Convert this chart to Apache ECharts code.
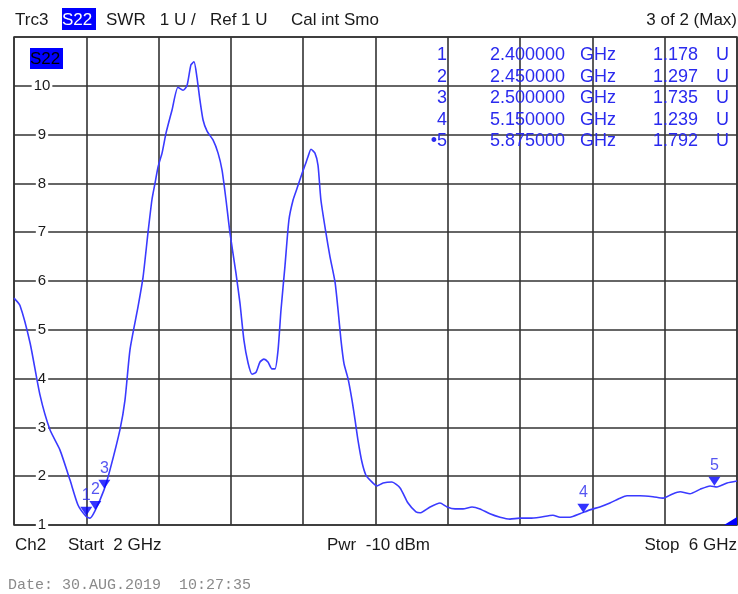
<!DOCTYPE html>
<html>
<head>
<meta charset="utf-8">
<script src="https://cdn.jsdelivr.net/npm/echarts@6/dist/echarts.min.js"></script>
<style>html,body{margin:0;padding:0;background:#fff;}#c{width:738px;height:594px;}</style>
</head>
<body>
<div id="c"></div>
<script>
// Trace frequencies (GHz) and SWR values
const freqs = [2.000,2.033,2.089,2.144,2.199,2.254,2.310,2.354,2.398,2.420,2.448,2.498,2.531,2.586,2.614,2.642,2.686,2.714,2.741,2.763,2.780,2.797,2.819,2.841,2.874,2.907,2.935,2.957,2.979,2.996,3.012,3.029,3.046,3.068,3.101,3.129,3.151,3.173,3.195,3.228,3.250,3.272,3.295,3.317,3.339,3.361,3.383,3.405,3.427,3.444,3.461,3.477,3.499,3.521,3.544,3.566,3.593,3.610,3.627,3.643,3.665,3.682,3.698,3.726,3.748,3.776,3.793,3.809,3.826,3.848,3.870,3.887,3.903,3.925,3.947,3.970,4.008,4.042,4.091,4.136,4.180,4.224,4.246,4.302,4.357,4.396,4.440,4.484,4.534,4.578,4.633,4.689,4.744,4.799,4.855,4.910,4.982,5.021,5.076,5.131,5.186,5.241,5.297,5.353,5.391,5.463,5.535,5.591,5.640,5.685,5.740,5.795,5.851,5.889,5.945,6.000];
const swr = [5.65,5.50,4.73,3.66,2.95,2.54,1.92,1.41,1.18,1.14,1.29,1.72,2.13,2.95,3.56,4.60,5.47,6.08,6.98,7.66,8.00,8.34,8.62,9.03,9.50,9.97,9.91,10.00,10.43,10.49,10.18,9.70,9.30,9.07,8.89,8.62,8.27,7.66,6.98,6.16,5.55,4.79,4.32,4.09,4.13,4.34,4.40,4.34,4.20,4.20,4.59,5.40,6.30,7.25,7.66,7.90,8.20,8.37,8.55,8.70,8.62,8.37,7.66,6.98,6.50,5.98,5.40,4.79,4.30,4.00,3.56,3.15,2.74,2.29,2.02,1.92,1.80,1.86,1.88,1.76,1.45,1.27,1.25,1.37,1.45,1.37,1.33,1.33,1.37,1.33,1.23,1.16,1.12,1.14,1.14,1.16,1.20,1.16,1.16,1.23,1.31,1.37,1.45,1.55,1.60,1.60,1.58,1.55,1.63,1.68,1.64,1.73,1.80,1.78,1.86,1.90];
// Markers
const markerIds = ['1','2','3','4','5'];
const markerFreqs = [2.400000, 2.450000, 2.500000, 5.150000, 5.875000];
const markerVals = [1.178, 1.297, 1.735, 1.239, 1.792];
// Axis settings
const yTicks = [1,2,3,4,5,6,7,8,9,10];
const fStart = 2, fStop = 6;

const blue = '#3a3aff';
const txt = '#1a1a1a';
const chart = echarts.init(document.getElementById('c'), null, {renderer:'canvas'});

const gfx = [];
const hdr = {fontFamily:'Liberation Sans, Arial', fontSize:17, fill:txt};
function T(x,y,text,st){ gfx.push({type:'text', x:x, y:y, z:10, style:Object.assign({text:text, textVerticalAlign:'middle'}, hdr, st||{})}); }
T(15,20,'Trc3');
gfx.push({type:'rect', x:62, y:8, z:9, shape:{width:34,height:22}, style:{fill:'#0000ff'}});
T(62,20,'S22',{fill:'#fff'});
T(106,20,'SWR   1 U /   Ref 1 U');
T(291,20,'Cal int Smo');
T(737,20,'3 of 2 (Max)',{textAlign:'right'});
gfx.push({type:'rect', x:30, y:48, z:9, shape:{width:33,height:21}, style:{fill:'#0000ff'}});
T(30,59,'S22',{fill:'#000'});
// marker table
const rowsY = [55,77,98,120,141];
for (let i=0;i<markerIds.length;i++){
  const st = {fill:'#2a2aee', fontSize:18};
  T(447, rowsY[i], (i===4?'\u2022':'')+markerIds[i], Object.assign({textAlign:'right'},st));
  T(490, rowsY[i], markerFreqs[i].toFixed(6), st);
  T(580, rowsY[i], 'GHz', st);
  T(653, rowsY[i], markerVals[i].toFixed(3), st);
  T(716, rowsY[i], 'U', st);
}
// footer
T(15,545,'Ch2');
T(68,545,'Start  ' + fStart + ' GHz');
T(327,545,'Pwr  -10 dBm');
T(737,545,'Stop  ' + fStop + ' GHz',{textAlign:'right'});
T(8,585,'Date: 30.AUG.2019  10:27:35',{fontFamily:'Liberation Mono, DejaVu Sans Mono, monospace', fontSize:15, fill:'#8a8a8a'});
// max indicator triangle
gfx.push({type:'polygon', z:10, shape:{points:[[724,525],[737,525],[737,517]]}, style:{fill:'#0000ff'}});

chart.setOption({
  animation:false,
  backgroundColor:'#fff',
  grid:{left:14, right:1, top:37, bottom:69, show:true, borderColor:'#333', borderWidth:1.5, backgroundColor:'transparent'},
  xAxis:{type:'value', min:fStart, max:fStop, interval:0.4,
    axisLine:{show:false}, axisTick:{show:false}, axisLabel:{show:false},
    splitLine:{show:true, lineStyle:{color:'#333', width:1.6}}},
  yAxis:{type:'value', min:1, max:11, interval:1,
    axisLine:{show:false}, axisTick:{show:false},
    axisLabel:{show:true, inside:true, margin:28, align:'center', color:txt, fontSize:15,
      fontFamily:'Liberation Sans, Arial', backgroundColor:'#fff', padding:[0,2],
      formatter:function(v){ return yTicks.indexOf(v)>=0 ? String(v) : ''; }},
    splitLine:{show:true, lineStyle:{color:'#333', width:1.6}}},
  series:[
    {type:'line', data:freqs.map((f,i)=>[f,swr[i]]), showSymbol:false, smooth:0.2,
      lineStyle:{color:blue, width:1.6}, z:5},
    {type:'scatter', z:6, data:markerFreqs.map((f,i)=>[f,markerVals[i],markerIds[i]]),
      symbol:'path://M0,0 L10,0 L5,8 Z', symbolSize:[12,9], symbolOffset:[0,-5],
      itemStyle:{color:'#0000ff'},
      label:{show:true, position:'top', distance:3, color:'#2a2aee', fontSize:16, fontFamily:'Liberation Sans, Arial',
        formatter:p=>p.value[2]}}
  ],
  graphic:gfx
});
</script>
</body>
</html>
